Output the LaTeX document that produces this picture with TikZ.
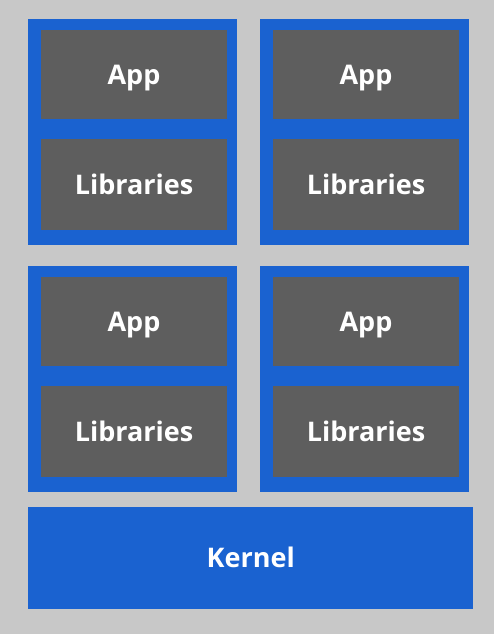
\documentclass[tikz,border=0pt]{standalone}
\usepackage{fontspec}
\setmainfont{Open Sans}
\definecolor{bg}{HTML}{C8C8C8}
\definecolor{kblue}{HTML}{1A62D0}
\definecolor{cgray}{HTML}{5E5E5E}
\begin{document}
\begin{tikzpicture}[x=1pt,y=-1pt,
  label font/.style={text=white, font=\bfseries\fontsize{27}{30}\selectfont,
    text height=19pt, text depth=0pt, inner sep=0pt},
  container/.style={fill=kblue, draw=none},
  layer/.style={fill=cgray, draw=none, label font},
  kernelbox/.style={fill=kblue, draw=none, label font}]
  \fill[bg] (0,0) rectangle (494,634);
  \useasboundingbox (0,0) rectangle (494,634);
  % containers: each holds an app on top of its libraries
  \foreach \name/\x/\y in {c1/28/19, c2/260/19, c3/28/266, c4/260/266}{
    \path[container] (\x,\y) rectangle ++(209,226);
    \path (\x+13,\y+11) rectangle ++(186,89)
      node[layer, midway, minimum width=186pt, minimum height=89pt] (\name-app) {App};
    \path (\x+13,\y+120) rectangle ++(186,91)
      node[layer, midway, minimum width=186pt, minimum height=91pt] (\name-lib) {Libraries};
  }
  % shared kernel underneath
  \node[kernelbox, minimum width=445pt, minimum height=102pt, anchor=north west] (kernel) at (28,507) {Kernel};
\end{tikzpicture}
\end{document}
